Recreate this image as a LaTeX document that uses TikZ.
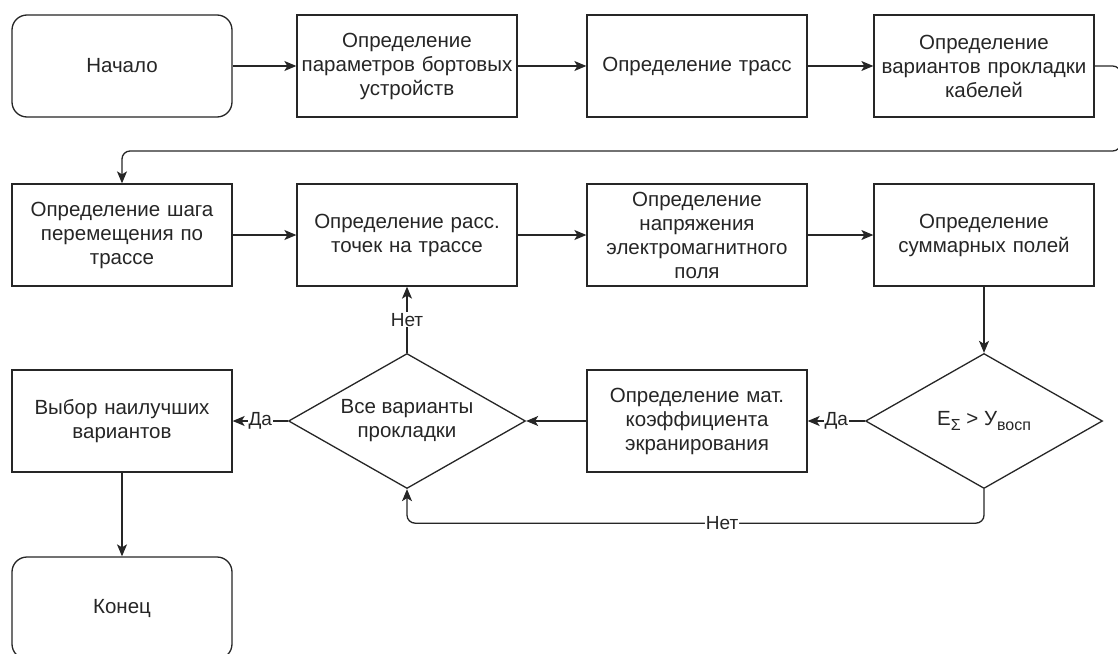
\documentclass[tikz,border=0pt]{standalone}
\usepackage{fontspec}
\setmainfont{Liberation Sans}
\usetikzlibrary{shapes.geometric,arrows.meta}
\providecommand{\lowidx}[1]{\raisebox{-5pt}{\fontsize{16pt}{16pt}\selectfont #1}}
\tikzstyle{block} = [draw, fill=white, rectangle, minimum height=102pt, minimum width=220pt, text width=212pt, align=center]
\tikzstyle{term} = [block, rounded corners=15pt]
\tikzstyle{decision} = [draw, fill=white, diamond, aspect=1.75, inner sep=0pt, minimum width=237pt, minimum height=135pt, align=center]
\tikzstyle{lbl} = [fill=white, inner sep=1pt, font={\fontsize{19pt}{21pt}\selectfont}]

\begin{document}
\begin{tikzpicture}[x=1pt, y=1pt, node distance=287pt, line width=1.3pt, black!85, >={Stealth[length=12pt, width=10pt, inset=3pt]}]
    \tikzset{font={\fontsize{20.5pt}{24pt}\selectfont}}
    \useasboundingbox (-122,66) rectangle (996,-587);
    \node [term] (start) {Начало};
    \node [block, right of=start, node distance=285pt] (params) {Определение\\ параметров бортовых\\ устройств};
    \node [block, right of=params, node distance=290pt] (routes) {Определение трасс};
    \node [block, right of=routes] (variants) {Определение\\ вариантов прокладки\\ кабелей};
    \node [block, below of=start, node distance=169pt] (stepsz) {Определение шага\\ перемещения по\\ трассе};
    \node [block, right of=stepsz, node distance=285pt] (points) {Определение расс.\\ точек на трассе};
    \node [block, right of=points, node distance=290pt] (field) {Определение\\ напряжения\\ электромагнитного\\ поля};
    \node [block, right of=field] (sumf) {Определение\\ суммарных полей};
    \node [decision, below of=sumf, node distance=186pt] (cmp) {E\lowidx{Σ} > У\lowidx{восп}};
    \node [block, below of=field, node distance=186pt] (shield) {Определение мат.\\ коэффициента\\ экранирования};
    \node [decision, below of=points, node distance=186pt] (allv) {Все варианты\\ прокладки};
    \node [block, below of=stepsz, node distance=186pt] (best) {Выбор наилучших\\ вариантов};
    \node [term, below of=best, node distance=187pt] (finish) {Конец};

    \draw [->] (start) -- (params);
    \draw [->] (params) -- (routes);
    \draw [->] (routes) -- (variants);
    % wrap to the second row
    \draw [->, rounded corners=8pt] (variants.east) -- ++(26,0) -- ++(0,-85) -| (stepsz.north);
    \draw [->] (stepsz) -- (points);
    \draw [->] (points) -- (field);
    \draw [->] (field) -- (sumf);
    \draw [->] (sumf) -- (cmp);
    \draw [->] (cmp) -- node[lbl] {Да} (shield);
    \draw [->] (shield) -- (allv);
    \draw [->] (allv) -- node[lbl] {Да} (best);
    \draw [->] (allv) -- node[lbl] {Нет} (points);
    \draw [->, rounded corners=8pt] (cmp.south) -- ++(0,-34) -| node[lbl, pos=0.227] {Нет} (allv.south);
    \draw [->] (best) -- (finish);
\end{tikzpicture}
\end{document}
